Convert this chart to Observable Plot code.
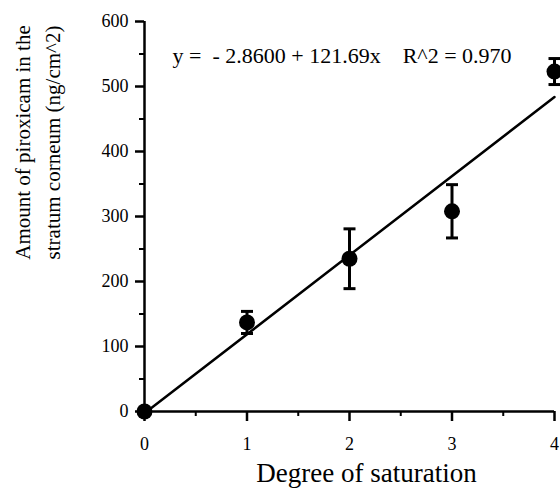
<!DOCTYPE html>
<html>
<head>
<meta charset="utf-8">
<script src="https://cdn.jsdelivr.net/npm/d3@7"></script>
<script src="https://cdn.jsdelivr.net/npm/@observablehq/plot@0.6"></script>
<style>
  html, body { margin: 0; padding: 0; background: #fff; }
  #chart svg { display: block; }
</style>
</head>
<body>
<div id="chart"></div>
<script>
// Data
const saturation = [0, 1, 2, 3, 4];
const amount = [0, 137, 235, 308, 523];
const errorSD = [0, 17, 46, 41, 20];
const fitIntercept = -2.86;
const fitSlope = 121.69;
const fitX = [0, 4];
const xTicks = [0, 1, 2, 3, 4];
const xMinorTicks = [0.5, 1.5, 2.5, 3.5];
const yTicks = [0, 100, 200, 300, 400, 500, 600];
const yMinorTicks = [50, 150, 250, 350, 450, 550];
const equationText = "y =  - 2.8600 + 121.69x    R^2 = 0.970";
const xLabel = "Degree of saturation";
const yLabel = "Amount of piroxicam in the\nstratum corneum (ng/cm^2)";

const points = saturation.map((x, i) => ({x, y: amount[i], lo: amount[i] - errorSD[i], hi: amount[i] + errorSD[i], sd: errorSD[i]}));
const errPoints = points.filter(d => d.sd > 0);
const fit = fitX.map(x => ({x, y: fitIntercept + fitSlope * x}));

const capSymbol = {
  draw(context, size) {
    const w = 6;
    context.moveTo(-w, 0);
    context.lineTo(w, 0);
  }
};

const font = "'Liberation Serif', 'DejaVu Serif', serif";

const chart = Plot.plot({
  width: 560,
  height: 492,
  marginLeft: 144,
  marginRight: 6,
  marginTop: 21,
  marginBottom: 81,
  style: {fontFamily: font, fontSize: "16px", color: "#000", background: "#fff"},
  x: {type: "linear", domain: [0, 4]},
  y: {type: "linear", domain: [0, 600]},
  marks: [
    Plot.axisX({ticks: xTicks, tickSize: 10, tickPadding: 16, strokeWidth: 2.5, fontSize: 18, label: null, tickFormat: d => d}),
    Plot.axisX({ticks: xMinorTicks, tickSize: 5, strokeWidth: 2, tickFormat: () => "", label: null}),
    Plot.axisY({ticks: yTicks, tickSize: 9, tickPadding: 7, strokeWidth: 2.5, fontSize: 18, label: null, tickFormat: d => d}),
    Plot.axisY({ticks: yMinorTicks, tickSize: 5, strokeWidth: 2, tickFormat: () => "", label: null}),
    Plot.ruleY([0], {stroke: "#000", strokeWidth: 2.5}),
    Plot.ruleX([0], {stroke: "#000", strokeWidth: 2.5}),
    // regression line
    Plot.line(fit, {x: "x", y: "y", stroke: "#000", strokeWidth: 2.5}),
    // error bars
    Plot.ruleX(errPoints, {x: "x", y1: "lo", y2: "hi", stroke: "#000", strokeWidth: 3}),
    Plot.dot(errPoints, {x: "x", y: "lo", symbol: capSymbol, r: 6, stroke: "#000", strokeWidth: 3, fill: "none"}),
    Plot.dot(errPoints, {x: "x", y: "hi", symbol: capSymbol, r: 6, stroke: "#000", strokeWidth: 3, fill: "none"}),
    // data points
    Plot.dot(points, {x: "x", y: "y", r: 8, fill: "#000", stroke: "none"}),
    // equation
    Plot.text([equationText], {frameAnchor: "top-left", dx: 28, dy: 34, textAnchor: "start", lineAnchor: "middle", fontSize: 22, fill: "#000"}),
    // axis labels
    Plot.text([xLabel], {frameAnchor: "bottom", dx: 17, dy: 62, textAnchor: "middle", lineAnchor: "middle", fontSize: 27, fill: "#000"}),
    Plot.text([yLabel], {frameAnchor: "left", dx: -109, dy: -74, rotate: -90, textAnchor: "middle", lineAnchor: "middle", fontSize: 21, lineHeight: 1.42, fill: "#000"})
  ]
});
document.getElementById("chart").appendChild(chart);
</script>
</body>
</html>
